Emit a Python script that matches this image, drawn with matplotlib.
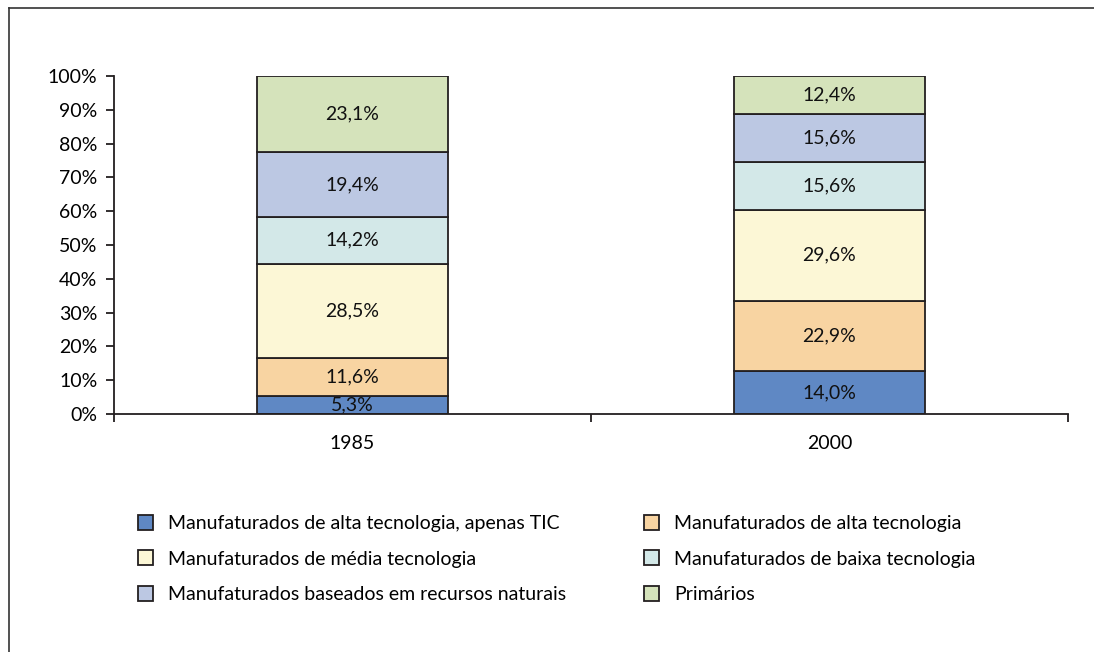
import matplotlib.pyplot as plt
import numpy as np
from matplotlib.lines import Line2D
from matplotlib.patches import Patch

plt.rcParams['font.family'] = ['Lato', 'DejaVu Sans']

years = ['1985', '2000']
categories = ['Manufaturados de alta tecnologia, apenas TIC',
              'Manufaturados de alta tecnologia',
              'Manufaturados de média tecnologia',
              'Manufaturados de baixa tecnologia',
              'Manufaturados baseados em recursos naturais',
              'Primários']
tic = [5.3, 14.0]
alta = [11.6, 22.9]
media = [28.5, 29.6]
baixa = [14.2, 15.6]
recursos = [19.4, 15.6]
primarios = [23.1, 12.4]
colors = ['#5F88C4', '#F8D4A2', '#FCF7D6', '#D3E8E8', '#BCC8E3', '#D5E3BB']
edge = '#231F20'

series = np.array([tic, alta, media, baixa, recursos, primarios])
shares = series / series.sum(axis=0) * 100

fig = plt.figure(figsize=(10.94, 6.52), dpi=100)
ax = fig.add_axes([114/1094, 1-414/652, (1068-114)/1094, (414-76)/652])

x = np.arange(len(years))
bottom = np.zeros(len(years))
for vals, sh, c in zip(series, shares, colors):
    ax.bar(x, sh, 0.4, bottom=bottom, color=c, edgecolor=edge, linewidth=1.3)
    for xi, v, s, b in zip(x, vals, sh, bottom):
        ax.text(xi, b + s/2, f'{v:.1f}%'.replace('.', ','), ha='center', va='center',
                fontsize=14, color='#111111')
    bottom += sh

ax.set_xlim(-0.5, 1.5)
ax.set_ylim(0, 100)
ax.set_yticks(np.arange(0, 101, 10))
ax.set_yticklabels([f'{t}%' for t in range(0, 101, 10)])
ax.set_xticks(x)
ax.set_xticklabels(years)
ax.set_xticks([-0.5, 0.5, 1.5], minor=True)
ax.tick_params(axis='x', which='major', length=0, pad=15, labelsize=14)
ax.tick_params(axis='x', which='minor', length=6, width=1.3, color=edge, direction='out')
ax.tick_params(axis='y', length=6, width=1.3, color=edge, labelsize=14, pad=6)
for s in ['top', 'right']:
    ax.spines[s].set_visible(False)
for s in ['left', 'bottom']:
    ax.spines[s].set_color(edge)
    ax.spines[s].set_linewidth(1.3)

order = [0, 2, 4, 1, 3, 5]
handles = [Patch(facecolor=colors[i], edgecolor=edge, linewidth=1.3) for i in order]
labels = [categories[i] for i in order]
fig.legend(handles, labels, ncol=2, loc='upper left', bbox_to_anchor=(130/1094, 1-507/652),
           frameon=False, fontsize=14, handlelength=0.8, handleheight=0.8,
           handletextpad=0.75, columnspacing=4.0, labelspacing=0.95, borderaxespad=0)

fig.add_artist(Line2D([9/1094, 1], [1-8/652, 1-8/652], color='#333333', lw=1.2))
fig.add_artist(Line2D([9/1094, 9/1094], [0, 1-8/652], color='#333333', lw=1.2))

fig.savefig('out.png', dpi=100)
